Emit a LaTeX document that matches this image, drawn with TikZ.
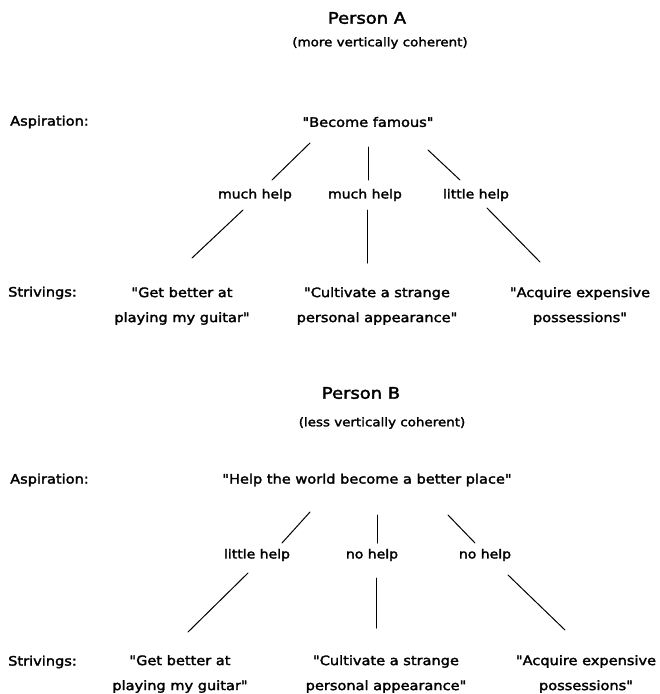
\documentclass[tikz,border=0pt]{standalone}
\usepackage{fontspec}
\setmainfont{DejaVu Sans}[FakeStretch=1.12, FakeBold=2.2, Ligatures=TeXOff]
\begin{document}
\begin{tikzpicture}[x=1pt,y=-1pt,
  txt/.style={inner sep=0pt, font=\fontsize{13}{25}\selectfont, align=center},
  titletxt/.style={inner sep=0pt, font=\fontsize{16}{19}\selectfont},
  subtxt/.style={inner sep=0pt, font=\fontsize{12}{15}\selectfont},
  rowlabel/.style={txt, anchor=west},
  helplabel/.style={inner sep=0pt, font=\fontsize{12.5}{15}\selectfont},
  link/.style={line width=1pt, line cap=round}]
\useasboundingbox (0,0) rectangle (660,694);

% ---------- Person A ----------
\node[titletxt] (titleA) at (367,18) {Person A};
\node[subtxt] (subA) at (380,43) {(more vertically coherent)};
\node[rowlabel] (aspLabA) at (10,122) {Aspiration:};
\node[txt] (aspA) at (368,122) {"Become famous"};
\node[helplabel] (hA1) at (255,195) {much help};
\node[helplabel] (hA2) at (365,195) {much help};
\node[helplabel] (hA3) at (476,195) {little help};
\node[rowlabel] (strLabA) at (8,293) {Strivings:};
\node[txt] (sA1) at (182,306) {"Get better at\\playing my guitar"};
\node[txt] (sA2) at (377,306) {"Cultivate a strange\\personal appearance"};
\node[txt] (sA3) at (580,306) {"Acquire expensive\\possessions"};

\coordinate (uA1a) at (310,143); \coordinate (uA1b) at (272,180);
\coordinate (uA2a) at (368,147); \coordinate (uA2b) at (368,180);
\coordinate (uA3a) at (428,150); \coordinate (uA3b) at (460,180);
\coordinate (lA1a) at (243,210); \coordinate (lA1b) at (192,258);
\coordinate (lA2a) at (367,210); \coordinate (lA2b) at (367,263);
\coordinate (lA3a) at (487,208); \coordinate (lA3b) at (540,262);
\draw[link] (uA1a) -- (uA1b);
\draw[link] (uA2a) -- (uA2b);
\draw[link] (uA3a) -- (uA3b);
\draw[link] (lA1a) -- (lA1b);
\draw[link] (lA2a) -- (lA2b);
\draw[link] (lA3a) -- (lA3b);

% ---------- Person B ----------
\node[titletxt] (titleB) at (361,393) {Person B};
\node[subtxt] (subB) at (382,423) {(less vertically coherent)};
\node[rowlabel] (aspLabB) at (10,480) {Aspiration:};
\node[txt] (aspB) at (367,480) {"Help the world become a better place"};
\node[helplabel] (hB1) at (257,555) {little help};
\node[helplabel] (hB2) at (372,555) {no help};
\node[helplabel] (hB3) at (485,555) {no help};
\node[rowlabel] (strLabB) at (8,662) {Strivings:};
\node[txt] (sB1) at (180,674) {"Get better at\\playing my guitar"};
\node[txt] (sB2) at (386,674) {"Cultivate a strange\\personal appearance"};
\node[txt] (sB3) at (586,674) {"Acquire expensive\\possessions"};

\coordinate (uB1a) at (310,512); \coordinate (uB1b) at (282,543);
\coordinate (uB2a) at (377,515); \coordinate (uB2b) at (377,543);
\coordinate (uB3a) at (448,515); \coordinate (uB3b) at (475,543);
\coordinate (lB1a) at (248,573); \coordinate (lB1b) at (188,632);
\coordinate (lB2a) at (376,578); \coordinate (lB2b) at (376,628);
\coordinate (lB3a) at (508,575); \coordinate (lB3b) at (565,630);
\draw[link] (uB1a) -- (uB1b);
\draw[link] (uB2a) -- (uB2b);
\draw[link] (uB3a) -- (uB3b);
\draw[link] (lB1a) -- (lB1b);
\draw[link] (lB2a) -- (lB2b);
\draw[link] (lB3a) -- (lB3b);
\end{tikzpicture}
\end{document}
